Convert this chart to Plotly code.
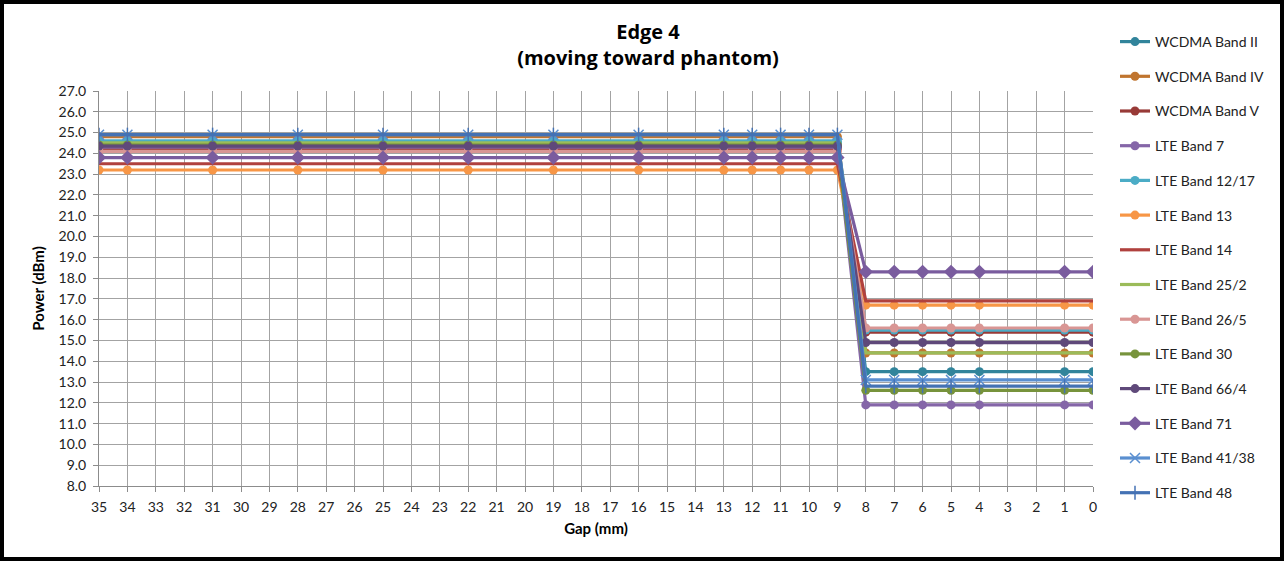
import plotly.graph_objects as go

gap_mm = [35, 34, 31, 28, 25, 22, 19, 16, 13, 12, 11, 10, 9, 8, 7, 6, 5, 4, 1, 0]

series_names = ["WCDMA Band II", "WCDMA Band IV", "WCDMA Band V", "LTE Band 7",
                "LTE Band 12/17", "LTE Band 13", "LTE Band 14", "LTE Band 25/2",
                "LTE Band 26/5", "LTE Band 30", "LTE Band 66/4", "LTE Band 71",
                "LTE Band 41/38", "LTE Band 48"]

# power level when far (gap 35..9) and near (gap 8..0)
far_power = [24.5, 24.8, 24.2, 24.3, 24.6, 23.2, 23.5, 24.5, 24.1, 24.4, 24.35, 23.8, 24.9, 24.9]
near_power = [13.5, 14.4, 15.4, 11.9, 15.5, 16.7, 16.9, 14.4, 15.6, 12.6, 14.9, 18.3, 13.1, 12.8]

n_far = 13
power = [[f] * n_far + [n] * (len(gap_mm) - n_far) for f, n in zip(far_power, near_power)]

colors = ["#31849B", "#C0752F", "#983A37", "#8566A8", "#4BACC6", "#F79646", "#B0413E",
          "#9BBB59", "#D99694", "#77933C", "#5F497A", "#7A5C9E", "#5A8FD0", "#4472B4"]
symbols = ["circle", "circle", "circle", "circle", "circle", "circle", None,
           None, "circle", "circle", "circle", "diamond", "x-thin-open", "line-ns-open"]

fig = go.Figure()
for i, name in enumerate(series_names):
    sym = symbols[i]
    if sym is None:
        mode = "lines"
        marker = dict()
    elif sym in ("x-thin-open", "line-ns-open"):
        mode = "lines+markers"
        marker = dict(symbol=sym, size=10, color=colors[i], line=dict(width=1.5, color=colors[i]))
    else:
        mode = "lines+markers"
        marker = dict(symbol=sym, size=9 if sym == "circle" else 11, color=colors[i])
    fig.add_trace(go.Scatter(x=gap_mm, y=power[i], name=name, mode=mode,
                             line=dict(color=colors[i], width=3.2), marker=marker,
                             legendgroup=name))

L, R, T, B = 99, 1093, 91, 486
W, H = 1286, 563
pw, ph = R - L, B - T

def px(x):
    return (x - L) / pw

def py(y):
    return (B - y) / ph

fig.add_shape(type="rect", xref="paper", yref="paper",
              x0=px(2), x1=px(1282), y0=py(559), y1=py(2),
              line=dict(color="black", width=4), layer="below")

font_family = "Lato, Open Sans, Liberation Sans, sans-serif"
grid = "#A3A3A3"

fig.update_layout(
    width=W, height=H,
    margin=dict(l=L, r=W - R, t=T, b=H - B),
    paper_bgcolor="white", plot_bgcolor="white",
    font=dict(family=font_family, size=14, color="#222222"),
    title=dict(text="<b>Edge 4<br>(moving toward phantom)</b>", x=648 / W, xanchor="center",
               y=1 - 39 / H, yanchor="top",
               font=dict(family="Open Sans, sans-serif", size=20, color="black")),
    showlegend=True,
    legend=dict(x=px(1115), y=py(26), xanchor="left", yanchor="top",
                font=dict(size=14, color="#222222"), tracegroupgap=13.5,
                itemwidth=30, bgcolor="rgba(0,0,0,0)", maxheight=1.0),
    xaxis=dict(range=[35, 0], dtick=1, tick0=0, showgrid=True, gridcolor=grid,
               gridwidth=1, showline=True, linecolor="#8C8C8C", ticks="outside",
               ticklen=5, tickcolor="#8C8C8C", zeroline=False, ticklabelstandoff=3,
               title=dict(text="<b>Gap (mm)</b>", font=dict(size=15, color="black"), standoff=9),
               tickfont=dict(size=14)),
    yaxis=dict(range=[8, 27], dtick=1, tickformat=".1f", showgrid=True, gridcolor=grid,
               gridwidth=1, showline=True, linecolor="#8C8C8C", ticks="outside",
               ticklen=5, tickcolor="#8C8C8C", zeroline=False, ticklabelstandoff=4,
               title=dict(text="<b>Power (dBm)</b>", font=dict(size=15, color="black"), standoff=10),
               tickfont=dict(size=14)),
)

fig.write_html("out.html", config={"displayModeBar": False},
               post_script="document.body.style.margin='0px';")
